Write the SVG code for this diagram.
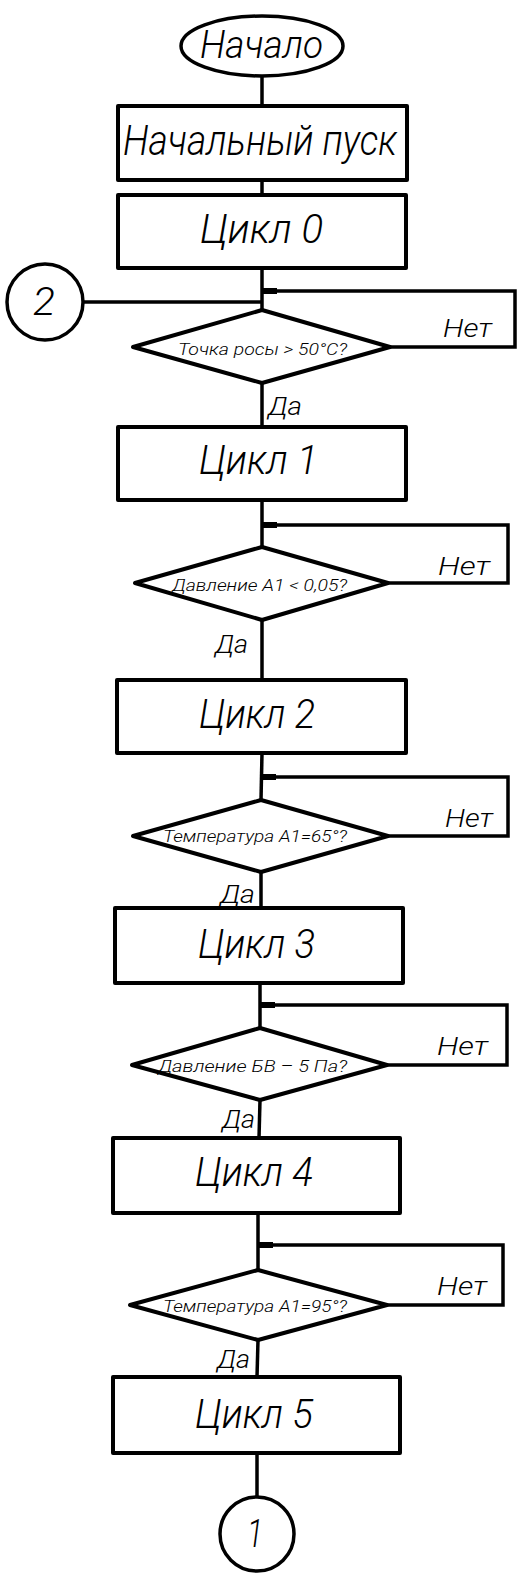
<svg xmlns="http://www.w3.org/2000/svg" width="526" height="1573" viewBox="0 0 526 1573">
  <style>
    .box { fill: #fff; stroke: #000; stroke-width: 4; stroke-linejoin: round; }
    .term { fill: #fff; stroke: #000; stroke-width: 3.5; }
    .line { fill: none; stroke: #000; stroke-width: 3.5; stroke-linejoin: miter; }
    .t { font-family: Roboto, "Liberation Sans", Arial, sans-serif; font-style: italic; font-weight: 300; fill: #000; }
    .big { font-size: 40px; }
    .small { font-size: 17px; }
    .lbl { font-size: 25px; }
  </style>
  <defs>
    <marker id="join" viewBox="0 0 14 8" refX="0" refY="4" markerWidth="14" markerHeight="8" markerUnits="userSpaceOnUse" orient="auto">
      <path d="M0,1 L14,1 L14,7 L0,7 Z" fill="#000"/>
    </marker>
  </defs>

  <!-- connectors -->
  <g id="connectors">
    <path class="line" d="M262,77 V106"/>
    <path class="line" d="M262,180 V195"/>
    <path class="line" d="M262,268 V310"/>
    <path class="line" d="M84,302 H262"/>
    <path class="line" d="M262,383 V427"/>
    <path class="line" d="M262,500 V547"/>
    <path class="line" d="M262,620 V680"/>
    <path class="line" d="M262,753 L261,800"/>
    <path class="line" d="M261,872 V908"/>
    <path class="line" d="M260,983 V1028"/>
    <path class="line" d="M260,1100 L259,1138"/>
    <path class="line" d="M258,1213 V1270"/>
    <path class="line" d="M258,1340 L257,1377"/>
    <path class="line" d="M257,1453 V1497"/>
    <!-- "Нет" return loops -->
    <path class="line" d="M390,347 H515 V291 H277" marker-end="url(#join)"/>
    <path class="line" d="M388,583 H508 V525 H277" marker-end="url(#join)"/>
    <path class="line" d="M388,836 H508 V777 H276" marker-end="url(#join)"/>
    <path class="line" d="M387,1065 H507 V1005 H275" marker-end="url(#join)"/>
    <path class="line" d="M387,1305 H503 V1245 H273" marker-end="url(#join)"/>
    <text class="t lbl" x="443" y="337" textLength="49" lengthAdjust="spacingAndGlyphs">Нет</text>
    <text class="t lbl" x="438" y="575" textLength="52" lengthAdjust="spacingAndGlyphs">Нет</text>
    <text class="t lbl" x="445" y="827" textLength="48" lengthAdjust="spacingAndGlyphs">Нет</text>
    <text class="t lbl" x="437" y="1055" textLength="51" lengthAdjust="spacingAndGlyphs">Нет</text>
    <text class="t lbl" x="437" y="1295" textLength="50" lengthAdjust="spacingAndGlyphs">Нет</text>
    <text class="t lbl" x="268" y="415" textLength="34" lengthAdjust="spacingAndGlyphs">Да</text>
    <text class="t lbl" x="215" y="653" textLength="33" lengthAdjust="spacingAndGlyphs">Да</text>
    <text class="t lbl" x="220" y="903" textLength="35" lengthAdjust="spacingAndGlyphs">Да</text>
    <text class="t lbl" x="222" y="1128" textLength="33" lengthAdjust="spacingAndGlyphs">Да</text>
    <text class="t lbl" x="217" y="1368" textLength="33" lengthAdjust="spacingAndGlyphs">Да</text>
  </g>

  <!-- start -->
  <g id="start">
    <ellipse class="term" cx="262" cy="46" rx="81" ry="30"/>
    <text class="t" x="200" y="58" font-size="39" textLength="123" lengthAdjust="spacingAndGlyphs">Начало</text>
  </g>

  <g id="init">
    <rect class="box" x="118" y="106" width="289" height="74"/>
    <text class="t" x="123" y="155" font-size="42" textLength="274" lengthAdjust="spacingAndGlyphs">Начальный пуск</text>
  </g>

  <g id="cycle0">
    <rect class="box" x="118" y="195" width="288" height="73"/>
    <text class="t big" x="200" y="243" textLength="123" lengthAdjust="spacingAndGlyphs">Цикл 0</text>
  </g>

  <g id="connector2">
    <circle class="term" cx="45" cy="302" r="38"/>
    <text class="t" x="33" y="315" font-size="38" textLength="22" lengthAdjust="spacingAndGlyphs">2</text>
  </g>

  <g id="check1">
    <polygon class="box" points="262,310 390,347 262,383 133,347"/>
    <text class="t small" x="178" y="355" textLength="169" lengthAdjust="spacingAndGlyphs">Точка росы &gt; 50°C?</text>
  </g>

  <g id="cycle1">
    <rect class="box" x="118" y="427" width="288" height="73"/>
    <text class="t big" x="199" y="474" textLength="119" lengthAdjust="spacingAndGlyphs">Цикл 1</text>
  </g>

  <g id="check2">
    <polygon class="box" points="262,547 388,583 262,620 135,583"/>
    <text class="t small" x="172" y="591" textLength="175" lengthAdjust="spacingAndGlyphs">Давление А1 &lt; 0,05?</text>
  </g>

  <g id="cycle2">
    <rect class="box" x="117" y="680" width="289" height="73"/>
    <text class="t big" x="199" y="728" textLength="116" lengthAdjust="spacingAndGlyphs">Цикл 2</text>
  </g>

  <g id="check3">
    <polygon class="box" points="261,800 388,836 261,872 133,836"/>
    <text class="t small" x="163" y="842" textLength="184" lengthAdjust="spacingAndGlyphs">Температура А1=65°?</text>
  </g>

  <g id="cycle3">
    <rect class="box" x="115" y="908" width="288" height="75"/>
    <text class="t big" x="198" y="958" textLength="117" lengthAdjust="spacingAndGlyphs">Цикл 3</text>
  </g>

  <g id="check4">
    <polygon class="box" points="260,1028 387,1065 260,1100 132,1065"/>
    <text class="t small" x="158" y="1072" textLength="189" lengthAdjust="spacingAndGlyphs">Давление БВ – 5 Па?</text>
  </g>

  <g id="cycle4">
    <rect class="box" x="113" y="1138" width="287" height="75"/>
    <text class="t big" x="195" y="1186" textLength="118" lengthAdjust="spacingAndGlyphs">Цикл 4</text>
  </g>

  <g id="check5">
    <polygon class="box" points="258,1270 387,1305 258,1340 130,1305"/>
    <text class="t small" x="163" y="1312" textLength="184" lengthAdjust="spacingAndGlyphs">Температура А1=95°?</text>
  </g>

  <g id="cycle5">
    <rect class="box" x="113" y="1377" width="287" height="76"/>
    <text class="t big" x="195" y="1428" textLength="118" lengthAdjust="spacingAndGlyphs">Цикл 5</text>
  </g>

  <g id="connector1">
    <circle class="term" cx="257" cy="1534" r="37"/>
    <text class="t" x="247" y="1547" font-size="38" textLength="16" lengthAdjust="spacingAndGlyphs">1</text>
  </g>
</svg>
